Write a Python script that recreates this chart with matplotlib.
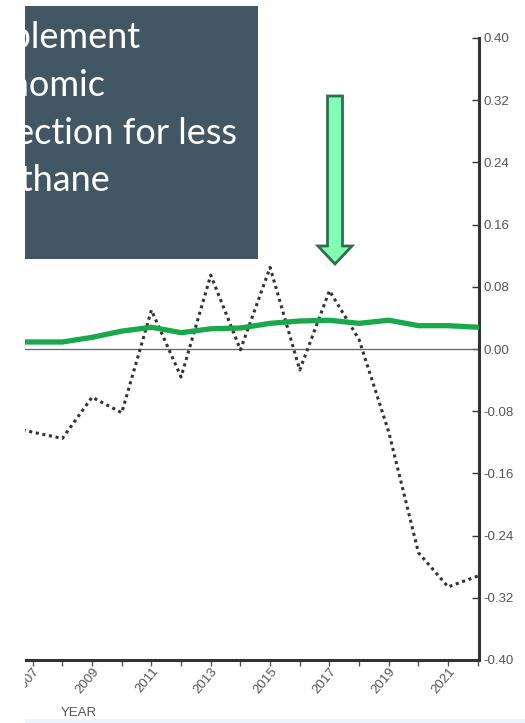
import matplotlib.pyplot as plt
from matplotlib.patches import Rectangle, FancyArrow

# data
years = list(range(2006, 2023))
trend = [-0.098, -0.107, -0.115, -0.062, -0.082, 0.050, -0.036, 0.095, -0.001,
         0.105, -0.027, 0.075, 0.012, -0.107, -0.262, -0.306, -0.292]
green_years = list(range(2006, 2023))
green_vals = [0.009, 0.009, 0.009, 0.015, 0.023, 0.028, 0.021, 0.026, 0.027,
              0.033, 0.036, 0.037, 0.033, 0.037, 0.030, 0.030, 0.028]
y_ticks = [0.40, 0.32, 0.24, 0.16, 0.08, 0.00, -0.08, -0.16, -0.24, -0.32, -0.40]
x_labels = [2007, 2009, 2011, 2013, 2015, 2017, 2019, 2021]
box_lines = ["Implement", "genomic", "selection for less", "methane"]

W, H = 525, 723
LABEL_FONT = ["Liberation Sans", "DejaVu Sans"]
fig = plt.figure(figsize=(W / 100, H / 100), dpi=100)
ax = fig.add_axes([25 / W, (H - 660) / H, 454 / W, 622 / H])

ax.plot(years, trend, color="#333333", lw=2.2, linestyle=(0, (1, 1.2)),
        dash_capstyle="butt", zorder=3)
ax.plot(green_years, green_vals, color="#19a84c", lw=3.8, zorder=4,
        solid_joinstyle="round")
ax.axhline(0, color="#666666", lw=0.9, zorder=2)

ax.set_xlim(2006.74, 2022.04)
ax.set_ylim(-0.40, 0.40)

for side in ["top", "left"]:
    ax.spines[side].set_visible(False)
for side in ["bottom", "right"]:
    ax.spines[side].set_linewidth(2.2)
    ax.spines[side].set_color("#333333")

ax.yaxis.tick_right()
ax.set_yticks(y_ticks)
ax.set_yticklabels([f"{v:.2f}" for v in y_ticks])
ax.tick_params(axis="y", direction="in", length=5, width=1, color="#333333",
               pad=3, labelsize=9.5, labelcolor="#555555")
ax.set_xticks(years[1:])
ax.set_xticklabels([str(y) if y in x_labels else "" for y in years[1:]])
ax.tick_params(axis="x", direction="out", length=4, width=1, color="#555555",
               pad=0, labelsize=9.5, labelcolor="#555555")
for lab in ax.get_xticklabels():
    lab.set_rotation(50)
    lab.set_ha("right")
    lab.set_va("top")
    lab.set_rotation_mode("anchor")
for lab in ax.get_xticklabels() + ax.get_yticklabels():
    lab.set_family(LABEL_FONT)

fig.text(61 / W, 1 - 713 / H, "YEAR", fontsize=9.5, color="#555555",
         family=LABEL_FONT, va="center")

# the reference is cropped on the left: a white strip covers x < 25
fig.patches.append(Rectangle((0, 0), 25, H, transform=None,
                             facecolor="white", edgecolor="none", zorder=10))

# dark text box in the top left, text clipped by the box
box = Rectangle((25, H - 259), 233, 253, transform=None,
                facecolor="#425763", edgecolor="none", zorder=5)
fig.patches.append(box)
fs = 26
probe = fig.text(0, 0, box_lines[2], fontsize=fs, family="Lato")
renderer = fig.canvas.get_renderer()
w = probe.get_window_extent(renderer).width
probe.remove()
x0 = 237 - w
for i, line in enumerate(box_lines):
    t = fig.text(x0 / W, 1 - (38 + 47.5 * i) / H, line, fontsize=fs,
                 family="Lato", color="white", va="center", zorder=6)
    t.set_clip_path(box)

# green arrow pointing down
arrow = FancyArrow(335, H - 96, 0, -168, width=15, head_width=34,
                   head_length=18, length_includes_head=True, transform=None,
                   facecolor="#80ffb4", edgecolor="#2f6e4c", lw=2, zorder=6)
fig.patches.append(arrow)

fig.patches.append(Rectangle((25, 0), W - 25, 4, transform=None,
                             facecolor="#eaf6fb", edgecolor="none"))

fig.savefig("out.png", dpi=100)
